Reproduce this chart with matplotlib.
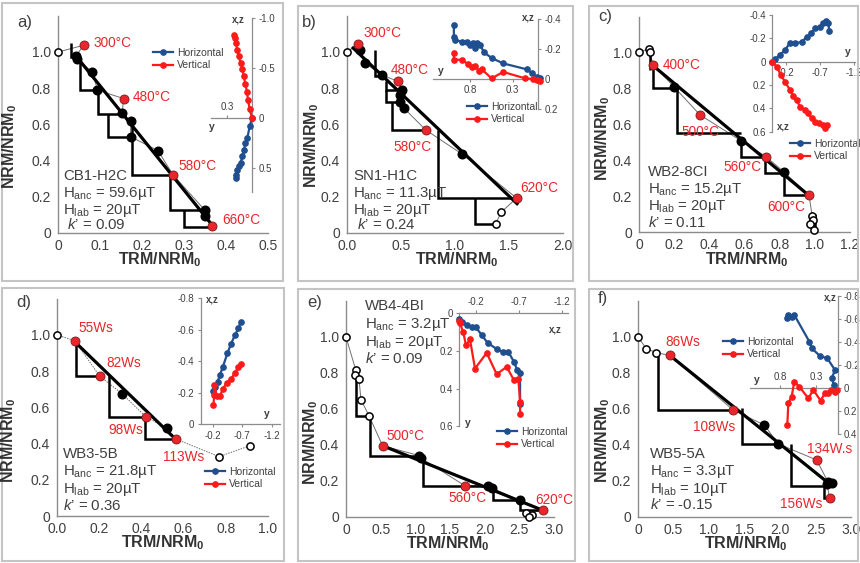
import numpy as np
import matplotlib
matplotlib.use("Agg")
import matplotlib.pyplot as plt
from matplotlib.patches import Rectangle

W, H = 860, 563
plt.rcParams['font.family'] = ['Liberation Sans', 'DejaVu Sans']
plt.rcParams['mathtext.fontset'] = 'custom'
plt.rcParams['mathtext.rm'] = 'Liberation Sans'
plt.rcParams['mathtext.it'] = 'Liberation Sans:italic'
plt.rcParams['mathtext.bf'] = 'Liberation Sans:bold'

GREY = '#404040'
AXC = '#8c8c8c'
RED = '#e8262b'
ZRED = '#ff1a1a'
ZBLUE = '#1f4f8f'

###############################################################
# a) CB1-H2C
a_trm = [0.0, 0.061, 0.042, 0.045, 0.082, 0.094, 0.156, 0.153, 0.173, 0.173, 0.238, 0.274, 0.349, 0.349, 0.367]
a_nrm = [1.0, 1.037, 0.976, 0.96, 0.89, 0.789, 0.743, 0.661, 0.62, 0.532, 0.455, 0.321, 0.128, 0.092, 0.037]
a_kind = "orbbbbrbbbbrbbr"
a_steps = ['300°C', '480°C', '580°C', '660°C']
a_fit_trm = [0.037, 0.37]
a_fit_nrm = [0.995, 0.035]
a_chk_x = [0.032, 0.053, 0.096, 0.119, 0.177, 0.266, 0.300]
a_chk_top = [1.05, 0.963, 0.789, 0.655, 0.625, 0.321, 0.128]
a_chk_bot = [0.975, 0.789, 0.655, 0.532, 0.321, 0.128, 0.033]
a_chk_end = [0.045, 0.094, 0.153, 0.173, 0.274, 0.349, 0.367]
a_info = ["CB1-H2C", "H$_{\\rm anc}$ = 59.6µT", "H$_{\\rm lab}$ = 20µT", " $k$’ = 0.09"]
a_hy = [0.0, 0.028, 0.056, 0.08, 0.096, 0.116, 0.137, 0.16, 0.18, 0.19, 0.19]
a_hx = [0.0, 0.083, 0.2, 0.25, 0.32, 0.38, 0.45, 0.48, 0.52, 0.57, 0.60]
a_vy = [0.0, 0.028, 0.048, 0.06, 0.08, 0.10, 0.116, 0.137, 0.16, 0.18, 0.19, 0.21, 0.22]
a_vz = [0.0, -0.09, -0.18, -0.26, -0.34, -0.42, -0.49, -0.55, -0.62, -0.68, -0.75, -0.80, -0.83]

# b) SN1-H1C
b_trm = [0.0, 0.10, 0.123, 0.163, 0.323, 0.47, 0.508, 0.49, 0.49, 0.53, 0.73, 1.068, 1.57, 1.43, 1.375]
b_nrm = [1.0, 1.042, 1.009, 0.94, 0.872, 0.839, 0.789, 0.761, 0.725, 0.688, 0.569, 0.435, 0.193, 0.116, 0.051]
b_kind = "orbbbrbbbbrbroo"
b_steps = ['300°C', '480°C', '580°C', '620°C']
b_fit_trm = [0.046, 1.585]
b_fit_nrm = [1.028, 0.156]
b_chk_x = [0.255, 0.36, 0.36, 0.42, 0.84, 1.185]
b_chk_top = [1.009, 0.839, 0.789, 0.725, 0.569, 0.193]
b_chk_bot = [0.866, 0.789, 0.725, 0.569, 0.193, 0.051]
b_chk_end = [0.323, 0.508, 0.49, 0.73, 1.57, 1.375]
b_info = ["SN1-H1C", "H$_{\\rm anc}$ = 11.3µT", "H$_{\\rm lab}$ = 20µT", " $k$’ = 0.24"]
b_hy = [0.99, 0.99, 0.98, 0.90, 0.84, 0.80, 0.76, 0.74, 0.72, 0.68, 0.64, 0.546, 0.41, 0.13, 0.075, 0.016, -0.02]
b_hx = [-0.36, -0.28, -0.26, -0.25, -0.25, -0.23, -0.24, -0.21, -0.24, -0.23, -0.18, -0.14, -0.104, -0.064, -0.04, -0.016, -0.005]
b_vy = [0.99, 0.99, 0.90, 0.82, 0.78, 0.74, 0.70, 0.66, 0.546, 0.41, 0.15, 0.055, 0.016, -0.02]
b_vz = [-0.171, -0.13, -0.127, -0.10, -0.077, -0.087, -0.056, -0.064, -0.004, -0.047, -0.004, 0.0, 0.007, 0.01]

# c) WB2-8CI
c_trm = [0.0, 0.056, 0.062, 0.08, 0.2, 0.347, 0.58, 0.724, 0.823, 0.967, 0.985, 0.99, 0.97, 0.995]
c_nrm = [1.004, 1.024, 1.006, 0.935, 0.81, 0.654, 0.51, 0.42, 0.336, 0.206, 0.088, 0.065, 0.045, 0.01]
c_kind = "ooorbrbrbroooo"
c_steps = ['400°C', '500°C', '560°C', '600°C']
c_fit_trm = [0.062, 0.976]
c_fit_nrm = [0.944, 0.196]
c_chk_x = [0.062, 0.08, 0.216, 0.58, 0.715, 0.827, 1.0]
c_chk_top = [1.02, 0.935, 0.81, 0.51, 0.42, 0.336, 0.1]
c_chk_bot = [0.905, 0.806, 0.555, 0.42, 0.33, 0.206, 0.0]
c_chk_end = [0.062, 0.2, 0.58, 0.724, 0.823, 0.967, 1.0]
c_info = ["WB2-8CI", "H$_{\\rm anc}$ = 15.2µT", "H$_{\\rm lab}$ = 20µT", "$k$’ = 0.11"]
c_hy = [0.0, -0.044, -0.118, -0.19, -0.26, -0.34, -0.44, -0.51, -0.58, -0.63, -0.71, -0.755, -0.79, -0.83, -0.84]
c_hx = [0.0, -0.02, -0.058, -0.1, -0.157, -0.157, -0.17, -0.214, -0.243, -0.286, -0.3, -0.334, -0.351, -0.334, -0.266]
c_vy = [0.0, -0.07, -0.13, -0.19, -0.265, -0.314, -0.363, -0.41, -0.485, -0.534, -0.583, -0.632, -0.696, -0.745, -0.78, -0.814]
c_vz = [0.0, 0.043, 0.114, 0.171, 0.243, 0.294, 0.329, 0.386, 0.414, 0.443, 0.486, 0.514, 0.529, 0.543, 0.571, 0.543]

# d) WB3-5B
d_trm = [0.0, 0.084, 0.202, 0.31, 0.42, 0.521, 0.566, 0.768, 0.916]
d_nrm = [1.0, 0.969, 0.773, 0.674, 0.549, 0.484, 0.424, 0.328, 0.389]
d_kind = "orrbrbroo"
d_steps = ['55Ws', '82Ws', '98Ws', '113Ws']
d_fit_trm = [0.084, 0.566]
d_fit_nrm = [0.963, 0.42]
d_chk_x = [0.088, 0.246, 0.419]
d_chk_top = [0.945, 0.779, 0.549]
d_chk_bot = [0.775, 0.549, 0.424]
d_chk_end = [0.202, 0.42, 0.566]
d_info = ["WB3-5B", "H$_{\\rm anc}$ = 21.8µT", "H$_{\\rm lab}$ = 20µT", "$k$’ = 0.36"]
d_hy = [-0.213, -0.24, -0.286, -0.325, -0.37, -0.45, -0.51, -0.578, -0.635, -0.674]
d_hx = [-0.213, -0.238, -0.27, -0.312, -0.36, -0.449, -0.508, -0.565, -0.607, -0.649]
d_vy = [-0.213, -0.23, -0.23, -0.27, -0.325, -0.37, -0.437, -0.51, -0.578, -0.635, -0.674]
d_vz = [-0.122, -0.186, -0.249, -0.179, -0.179, -0.221, -0.263, -0.284, -0.327, -0.36, -0.381]

# e) WB4-4BI
e_trm = [0.0, 0.139, 0.13, 0.187, 0.216, 0.331, 0.528, 1.056, 1.08, 1.714, 2.05, 2.1, 2.506, 2.84, 2.6, 2.68, 2.64]
e_nrm = [1.0, 0.819, 0.79, 0.767, 0.652, 0.563, 0.396, 0.341, 0.328, 0.174, 0.174, 0.161, 0.093, 0.037, 0.02, 0.013, 0.0]
e_kind = "oooooorbbrbbbrooo"
e_steps = ['500°C', '560°C', '620°C']
e_fit_trm = [0.528, 2.84]
e_fit_nrm = [0.396, 0.037]
e_chk_x = [0.139, 0.346, 1.114, 2.12, 2.506]
e_chk_top = [0.81, 0.559, 0.337, 0.167, 0.093]
e_chk_bot = [0.559, 0.337, 0.174, 0.093, 0.037]
e_chk_end = [0.331, 1.056, 2.05, 2.506, 2.84]
e_info = ["WB4-4BI", "H$_{\\rm anc}$ = 3.2µT", "H$_{\\rm lab}$ = 20µT", "$k$’ = 0.09"]
e_hy = [0.0, -0.03, -0.089, -0.147, -0.198, -0.264, -0.333, -0.446, -0.508, -0.574, -0.64, -0.678, -0.71, -0.71]
e_hx = [0.034, 0.046, 0.064, 0.073, 0.076, 0.117, 0.158, 0.193, 0.206, 0.206, 0.259, 0.303, 0.317, 0.484]
e_vy = [0.0, -0.012, -0.05, -0.081, -0.128, -0.186, -0.322, -0.438, -0.554, -0.64, -0.69, -0.71, -0.71]
e_vz = [0.041, 0.055, 0.103, 0.17, 0.14, 0.294, 0.211, 0.324, 0.285, 0.356, 0.348, 0.471, 0.537]

# f) WB5-5A
f_trm = [0.0, 0.118, 0.26, 0.447, 1.34, 1.78, 1.975, 2.515, 2.68, 2.73, 2.66, 2.70]
f_nrm = [1.0, 0.935, 0.913, 0.898, 0.594, 0.511, 0.406, 0.317, 0.192, 0.188, 0.184, 0.105]
f_kind = "ooorrbbrbbbr"
f_steps = ['86Ws', '108Ws', '134W.s', '156Ws']
f_fit_trm = [0.447, 2.694]
f_fit_nrm = [0.898, 0.185]
f_chk_x = [0.282, 1.467, 2.16, 2.62]
f_chk_top = [0.924, 0.603, 0.406, 0.184]
f_chk_bot = [0.594, 0.406, 0.173, 0.105]
f_chk_end = [1.34, 1.975, 2.68, 2.70]
f_info = ["WB5-5A", "H$_{\\rm anc}$ = 3.3µT", "H$_{\\rm lab}$ = 10µT", "$k$’ = -0.15"]
f_hy = [0.697, 0.683, 0.637, 0.6, 0.39, 0.358, 0.243, 0.141, 0.035, 0.08, 0.048]
f_hx = [-0.609, -0.638, -0.623, -0.638, -0.405, -0.348, -0.281, -0.26, -0.159, -0.087, -0.029]
f_vy = [0.697, 0.683, 0.637, 0.6, 0.53, 0.405, 0.336, 0.235, 0.175, 0.13, 0.09, 0.035, 0.013]
f_vz = [0.319, 0.13, 0.073, -0.058, -0.014, 0.087, 0.014, 0.107, 0.043, 0.043, 0.014, 0.029, 0.014]

###############################################################
fig = plt.figure(figsize=(8.6, 5.63), dpi=100)


def fx(px):
    return px / W


def fy(py):
    return 1 - py / H


def txt(px, py, s, **kw):
    fig.text(fx(px), fy(py), s, **kw)


def arai(box, xlim, xticks, xticklabels, trm, nrm, kind, steps, offs,
         fit_x, fit_y, chk, info, info_x, info_y, dotted=False):
    x0, x1, yb, ppu = box
    ytop = yb - 1.2 * ppu
    ax = fig.add_axes([fx(x0), fy(yb), (x1 - x0) / W, (yb - ytop) / H])
    ax.set_facecolor('none')
    ax.set_xlim(xlim)
    ax.set_ylim(0, 1.2)
    for s in ['top', 'right']:
        ax.spines[s].set_visible(False)
    for s in ['left', 'bottom']:
        ax.spines[s].set_color(AXC)
        ax.spines[s].set_linewidth(1.0)
    ax.set_xticks(xticks)
    ax.set_xticklabels(xticklabels)
    ax.set_yticks([0, 0.2, 0.4, 0.6, 0.8, 1.0])
    ax.set_yticklabels(['0', '0.2', '0.4', '0.6', '0.8', '1.0'])
    ax.tick_params(length=0, labelsize=10, labelcolor=GREY)
    ax.tick_params(axis='y', pad=5)
    ax.tick_params(axis='x', pad=4)

    ax.plot(trm, nrm, color='#6f6f6f', lw=0.7, ls=(0, (1.5, 1.2)) if dotted else '-', zorder=1)
    for cx, ct, cb, ce in zip(*chk):
        ax.plot([cx, cx, ce], [ct, cb, cb], color='k', lw=1.8, solid_joinstyle='miter',
                solid_capstyle='butt', zorder=2, clip_on=False)
    ax.plot(fit_x, fit_y, color='k', lw=2.3, zorder=3, solid_capstyle='butt')

    trm = np.array(trm)
    nrm = np.array(nrm)
    kind = np.array(list(kind))
    m = kind == 'o'
    ax.plot(trm[m], nrm[m], 'o', ms=5.2, mfc='white', mec='k', mew=1.1, ls='none',
            zorder=4, clip_on=False)
    m = kind == 'b'
    ax.plot(trm[m], nrm[m], 'o', ms=6.2, mfc='k', mec='k', ls='none', zorder=5, clip_on=False)
    m = kind == 'r'
    ax.plot(trm[m], nrm[m], 'o', ms=6.5, mfc=RED, mec='#7a1a1a', mew=0.6, ls='none',
            zorder=6, clip_on=False)
    for xi, yi, s, (dx, dy) in zip(trm[m], nrm[m], steps, offs):
        ax.annotate(s, (xi, yi), xytext=(dx, dy), textcoords='offset pixels',
                    ha='left', va='center', color=RED, fontsize=9.8)
    for s, by in zip(info, info_y):
        txt(info_x, by, s, ha='left', va='baseline', fontsize=10.8, color=GREY)
    return ax


def zijd(rect, h0, hs, v0, vs, vside, hside, vbounds, hbounds, vticks, vlabels,
         hticks, hlabels, hy, hx, vy, vz, leg_x, leg_y):
    x0, y0, x1, y1 = rect
    ax = fig.add_axes([fx(x0), fy(y1), (x1 - x0) / W, (y1 - y0) / H])
    ax.set_facecolor('none')
    ax.set_xlim((x0 - h0) / hs, (x1 - h0) / hs)
    ax.set_ylim((y1 - v0) / vs, (y0 - v0) / vs)
    other_v = 'left' if vside == 'right' else 'right'
    other_h = 'top' if hside == 'bottom' else 'bottom'
    ax.spines[other_v].set_visible(False)
    ax.spines[other_h].set_visible(False)
    ax.spines[vside].set_position(('data', 0))
    ax.spines[hside].set_position(('data', 0))
    ax.spines[vside].set_bounds(*vbounds)
    ax.spines[hside].set_bounds(*hbounds)
    for s in [vside, hside]:
        ax.spines[s].set_color(AXC)
        ax.spines[s].set_linewidth(0.9)
    ax.yaxis.set_ticks_position(vside)
    ax.xaxis.set_ticks_position(hside)
    ax.set_yticks(vticks)
    ax.set_yticklabels(vlabels)
    ax.set_xticks(hticks)
    ax.set_xticklabels(hlabels)
    ax.tick_params(length=2.5, width=0.8, color=AXC, pad=2, labelsize=7, labelcolor=GREY)
    hl, = ax.plot(hy, hx, '-o', color=ZBLUE, ms=3.8, lw=1.6, clip_on=False, zorder=3)
    vl, = ax.plot(vy, vz, '-o', color=ZRED, ms=3.8, lw=1.6, clip_on=False, zorder=4)
    ax.legend([hl, vl], ['Horizontal', 'Vertical'], loc='center left',
              bbox_to_anchor=(fx(leg_x), fy(leg_y)), bbox_transform=fig.transFigure,
              frameon=False, fontsize=7.5, handlelength=1.9, handletextpad=0.4,
              labelspacing=0.25, borderpad=0, borderaxespad=0, labelcolor=GREY,
              numpoints=1)
    return ax


# panel frames
for (bx0, by0, bx1, by1) in [(2, 3, 283, 281), (298, 6, 573, 281), (589, 6, 858, 281),
                             (2, 288, 284, 561), (298, 289, 575, 561), (589, 289, 858, 561)]:
    fig.add_artist(Rectangle((fx(bx0), fy(by1)), (bx1 - bx0) / W, (by1 - by0) / H,
                             transform=fig.transFigure, fill=False, ec='#c4c4c4', lw=1.5))

xl_kw = dict(ha='center', va='center', fontsize=11.5, fontweight='bold', color='#333333')
xlab = "TRM/NRM$_\\mathbf{0}$"
ylab = "NRM/NRM$_\\mathbf{0}$"

# ---- a
arai((58, 268, 233, 181), (0, 0.5), [0, 0.1, 0.2, 0.3, 0.4, 0.5],
     ['0', '0.1', '0.2', '0.3', '0.4', '0.5'], a_trm, a_nrm, a_kind, a_steps,
     [(10, 2), (9.5, 1.5), (5, 9), (10.5, 6)], a_fit_trm, a_fit_nrm,
     (a_chk_x, a_chk_top, a_chk_bot, a_chk_end), a_info, 63, [180, 197, 214, 229])
zijd((205, 17, 258, 192), 252, -83, 118, 100, 'right', 'top', (-1.0, 0.74), (0, 0.49),
     [-1.0, -0.5, 0, 0.5], ['-1.0', '-0.5', '0', '0.5'], [0.3], ['0.3'],
     a_hy, a_hx, a_vy, a_vz, 153, 59)
txt(238, 19, 'x,z', ha='center', va='center', fontsize=7, fontweight='bold', color=GREY)
txt(212, 127, 'y', ha='center', va='center', fontsize=7.5, fontweight='bold', color=GREY)
txt(17, 23, 'a)', ha='left', va='center', fontsize=12, color=GREY)
txt(160, 260, xlab, **xl_kw)
txt(10, 146, ylab, rotation=90, **xl_kw)

# ---- b
arai((347, 563, 233, 181), (0, 2.0), [0, 0.5, 1.0, 1.5, 2.0],
     ['0.0', '0.5', '1.0', '1.5', '2.0'], b_trm, b_nrm, b_kind, b_steps,
     [(5.5, 11), (-7, 11), (-32.5, -16.7), (3.4, 9.7)], b_fit_trm, b_fit_nrm,
     (b_chk_x, b_chk_top, b_chk_bot, b_chk_end), b_info, 353, [180, 197, 214, 229])
zijd((430, 17, 545, 110), 538, -85, 79, 150, 'right', 'bottom', (-0.4, 0.2), (0, 1.235),
     [-0.4, -0.2, 0, 0.2], ['-0.4', '-0.2', '0', '0.2'], [0.8, 0.3], ['0.8', '0.3'],
     b_hy, b_hx, b_vy, b_vz, 467, 113)
txt(528, 17, 'x,z', ha='center', va='center', fontsize=7, fontweight='bold', color=GREY)
txt(441, 71, 'y', ha='center', va='center', fontsize=7.5, fontweight='bold', color=GREY)
txt(302, 22, 'b)', ha='left', va='center', fontsize=12, color=GREY)
txt(457, 260, xlab, **xl_kw)
txt(312, 145, ylab, rotation=90, **xl_kw)

# ---- c
arai((639, 850, 232, 179), (0, 1.2), [0, 0.2, 0.4, 0.6, 0.8, 1.0, 1.2],
     ['0', '0.2', '0.4', '0.6', '0.8', '1.0', '1.2'], c_trm, c_nrm, c_kind, c_steps,
     [(10, 0), (-19, -17), (-43, -10), (-42, -12)], c_fit_trm, c_fit_nrm,
     (c_chk_x, c_chk_top, c_chk_bot, c_chk_end), c_info, 648, [176, 193, 210, 227])
zijd((762, 14, 858, 133), 772, -68, 61.7, 116.7, 'left', 'bottom', (-0.4, 0.6), (-1.22, 0),
     [-0.4, -0.2, 0, 0.2, 0.4, 0.6], ['-0.4', '-0.2', '0', '0.2', '0.4', '0.6'],
     [-0.2, -0.7, -1.2], ['-0.2', '-0.7', '-1.2'],
     c_hy, c_hx, c_vy, c_vz, 790, 150)
txt(848, 52, 'y', ha='center', va='center', fontsize=7.5, fontweight='bold', color=GREY)
txt(777, 127, 'x,z', ha='left', va='center', fontsize=7, fontweight='bold', color=GREY)
txt(598, 17, 'c)', ha='left', va='center', fontsize=12, color=GREY)
txt(747, 259.5, xlab, **xl_kw)
txt(603, 138, ylab, rotation=90, **xl_kw)

# ---- d
arai((57, 268, 516, 181), (0, 1.0), [0, 0.2, 0.4, 0.6, 0.8, 1.0],
     ['0.0', '0.2', '0.4', '0.6', '0.8', '1.0'], d_trm, d_nrm, d_kind, d_steps,
     [(3.6, 12.3), (6.4, 12.8), (-37, -13.4), (-13.7, -17.4)], d_fit_trm, d_fit_nrm,
     (d_chk_x, d_chk_top, d_chk_bot, d_chk_end), d_info, 63, [458, 475, 493, 510],
     dotted=True)
zijd((192, 295, 282, 427), 200.7, -59.3, 424.3, 158, 'left', 'bottom', (-0.8, 0), (-1.34, 0),
     [-0.8, -0.6, -0.4, -0.2, 0], ['-0.8', '-0.6', '-0.4', '-0.2', '0'],
     [-0.2, -0.7, -1.2], ['-0.2', '-0.7', '-1.2'],
     d_hy, d_hx, d_vy, d_vz, 205, 478)
txt(267, 414, 'y', ha='center', va='center', fontsize=7.5, fontweight='bold', color=GREY)
txt(206, 300, 'x,z', ha='left', va='center', fontsize=7, fontweight='bold', color=GREY)
txt(16, 303, 'd)', ha='left', va='center', fontsize=12, color=GREY)
txt(163, 543, xlab, **xl_kw)
txt(9, 440, ylab, rotation=90, **xl_kw)

# ---- e
arai((346, 554, 517, 180), (0, 3.0), [0, 0.5, 1.0, 1.5, 2.0, 2.5, 3.0],
     ['0', '0.5', '1.0', '1.5', '2.0', '2.5', '3.0'], e_trm, e_nrm, e_kind, e_steps,
     [(4, 9.7), (-16.5, -12.6), (-7.8, 10.3)], e_fit_trm, e_fit_nrm,
     (e_chk_x, e_chk_top, e_chk_bot, e_chk_end), e_info, 365, [310, 328, 346, 363])
zijd((450, 306, 570, 428), 459, -86, 313, 189, 'left', 'top', (0, 0.6), (-1.27, 0),
     [0, 0.2, 0.4, 0.6], ['0', '0.2', '0.4', '0.6'],
     [-0.2, -0.7, -1.2], ['-0.2', '-0.7', '-1.2'],
     e_hy, e_hx, e_vy, e_vz, 497, 438)
txt(555, 329, 'x,z', ha='center', va='center', fontsize=7, fontweight='bold', color=GREY)
txt(468, 423, 'y', ha='center', va='center', fontsize=7.5, fontweight='bold', color=GREY)
txt(307, 303, 'e)', ha='left', va='center', fontsize=12, color=GREY)
txt(448, 544, xlab, **xl_kw)
txt(311, 442, ylab, rotation=90, **xl_kw)

# ---- f
arai((638, 851, 517, 180), (0, 3.0), [0, 0.5, 1.0, 1.5, 2.0, 2.5, 3.0],
     ['0', '0.5', '1.0', '1.5', '2.0', '2.5', '3.0'], f_trm, f_nrm, f_kind, f_steps,
     [(-4.7, 13.7), (-39.8, -16.6), (-10, 10.6), (-49.7, -5.9)], f_fit_trm, f_fit_nrm,
     (f_chk_x, f_chk_top, f_chk_bot, f_chk_end), f_info, 650, [458, 475, 493, 509])
zijd((748, 295, 845, 436), 837.5, -72, 388.3, 115, 'right', 'top', (-0.8, 0.4), (0, 1.22),
     [-0.8, -0.6, -0.4, -0.2, 0, 0.2, 0.4], ['-0.8', '-0.6', '-0.4', '-0.2', '0', '0.2', '0.4'],
     [0.8, 0.3], ['0.8', '0.3'],
     f_hy, f_hx, f_vy, f_vz, 723, 348)
txt(830, 298, 'x,z', ha='center', va='center', fontsize=7, fontweight='bold', color=GREY)
txt(757, 380, 'y', ha='center', va='center', fontsize=7.5, fontweight='bold', color=GREY)
txt(598, 299, 'f)', ha='left', va='center', fontsize=12, color=GREY)
txt(746, 544, xlab, **xl_kw)
txt(603, 440, ylab, rotation=90, **xl_kw)

fig.savefig('out.png', dpi=100)
